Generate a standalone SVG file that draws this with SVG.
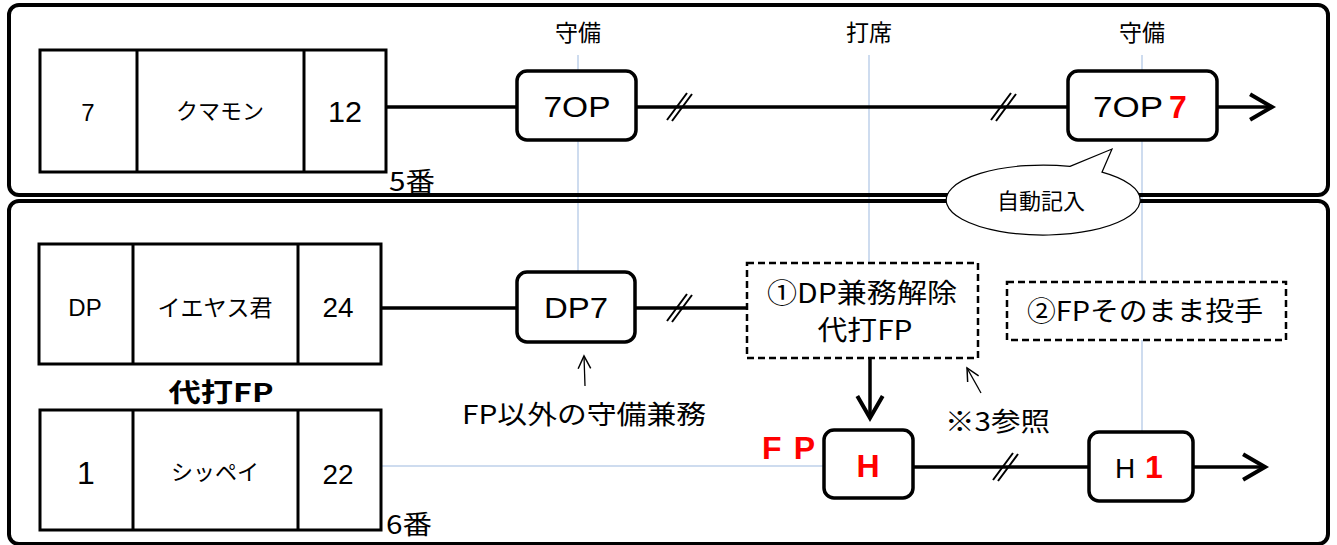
<svg xmlns="http://www.w3.org/2000/svg" width="1337" height="545" viewBox="0 0 1337 545">
<style>
text{font-family:"Liberation Sans","Noto Sans CJK JP",sans-serif;fill:#000}
.jp{font-family:"Noto Sans CJK JP","Liberation Sans",sans-serif}
.panel{fill:none;stroke:#000;stroke-width:4}
.tbl{fill:#fff;stroke:#000;stroke-width:3}
.node{fill:#fff;stroke:#000;stroke-width:3.5}
.dash{fill:#fff;stroke:#000;stroke-width:2.5;stroke-dasharray:7 4}
.guide{stroke:#9DB9DF;stroke-width:1;fill:none}
.conn{stroke:#000;stroke-width:3.5;fill:none}
.thin{stroke:#000;stroke-width:1.3;fill:none}
.brk{stroke:#000;stroke-width:2;fill:none}
.red{fill:#FF0000;font-weight:bold}
.mid{text-anchor:middle}
</style>
<defs>
<marker id="ah" markerUnits="userSpaceOnUse" markerWidth="30" markerHeight="30" viewBox="-22 -13 26 26" refX="0" refY="0" orient="auto" overflow="visible">
<path d="M-19,-11 L0,0 L-19,11" fill="none" stroke="#000" stroke-width="3.5" stroke-linejoin="miter"/>
</marker>
<marker id="sh" markerUnits="userSpaceOnUse" markerWidth="16" markerHeight="16" viewBox="-12 -7 14 14" refX="0" refY="0" orient="auto" overflow="visible">
<path d="M-11,-5.5 L0,0 L-11,5.5" fill="none" stroke="#000" stroke-width="1.3"/>
</marker>
</defs>
<rect width="1337" height="545" fill="#fff"/>

<g id="guides">
<line class="guide" x1="578" y1="55" x2="578" y2="272"/>
<line class="guide" x1="869" y1="55" x2="869" y2="263"/>
<line class="guide" x1="1142" y1="55" x2="1142" y2="432"/>
<line class="guide" x1="381" y1="466" x2="824" y2="466"/>
</g>

<g id="panels">
<rect class="panel" x="9" y="5" width="1319" height="190" rx="10"/>
<rect class="panel" x="9" y="201" width="1319" height="343" rx="10"/>
</g>

<g id="labels-top">
<text class="jp mid" x="578" y="41" font-size="23">守備</text>
<text class="jp mid" x="869" y="41" font-size="23">打席</text>
<text class="jp mid" x="1142" y="41" font-size="23">守備</text>
</g>

<g id="connectors">
<line class="conn" x1="386" y1="107" x2="517" y2="107"/>
<line class="conn" x1="636" y1="107" x2="1068" y2="107"/>
<line class="conn" x1="1217" y1="107" x2="1272" y2="107" marker-end="url(#ah)"/>
<line class="conn" x1="381" y1="308" x2="517" y2="308"/>
<line class="conn" x1="635" y1="308" x2="747" y2="308"/>
<line class="conn" x1="870" y1="358" x2="870" y2="418" marker-end="url(#ah)"/>
<line class="conn" x1="913" y1="467" x2="1089" y2="467"/>
<line class="conn" x1="1193" y1="467" x2="1265" y2="467" marker-end="url(#ah)"/>
<line class="thin" x1="585" y1="386" x2="584" y2="356" marker-end="url(#sh)"/>
<line class="thin" x1="981" y1="393" x2="967" y2="368" marker-end="url(#sh)"/>
<g id="breaks">
<path class="brk" d="M667,120 L687,93 M672,121 L692,94"/>
<path class="brk" d="M991,120 L1011,93 M996,121 L1016,94"/>
<path class="brk" d="M667,321 L687,294 M672,322 L692,295"/>
<path class="brk" d="M993,480 L1013,453 M998,481 L1018,454"/>
</g>
</g>

<g id="table-5">
<rect class="tbl" x="40" y="50" width="346" height="122"/>
<line class="tbl" x1="137" y1="50" x2="137" y2="172"/>
<line class="tbl" x1="304" y1="50" x2="304" y2="172"/>
<text class="mid" x="88" y="121" font-size="24">7</text>
<text class="jp mid" x="220" y="119" font-size="22">クマモン</text>
<text class="mid" x="345" y="122" font-size="29" textLength="34" lengthAdjust="spacingAndGlyphs">12</text>
<text class="jp" x="389" y="191" font-size="26" textLength="46" lengthAdjust="spacingAndGlyphs">5番</text>
</g>

<g id="table-dp">
<rect class="tbl" x="39" y="244" width="342" height="120"/>
<line class="tbl" x1="133" y1="244" x2="133" y2="364"/>
<line class="tbl" x1="298" y1="244" x2="298" y2="364"/>
<text class="mid" x="85" y="316" font-size="24">DP</text>
<text class="jp mid" x="215" y="316" font-size="23">イエヤス君</text>
<text class="mid" x="338" y="317" font-size="28" textLength="31" lengthAdjust="spacingAndGlyphs">24</text>
</g>

<text id="pinch-label" class="jp mid" x="221" y="402" font-size="26" font-weight="bold" textLength="105" lengthAdjust="spacingAndGlyphs">代打FP</text>

<g id="table-fp">
<rect class="tbl" x="40" y="410" width="341" height="120"/>
<line class="tbl" x1="133" y1="410" x2="133" y2="530"/>
<line class="tbl" x1="298" y1="410" x2="298" y2="530"/>
<text class="mid" x="86" y="484" font-size="32">1</text>
<text class="jp mid" x="215" y="480" font-size="22">シッペイ</text>
<text class="mid" x="338" y="484" font-size="28" textLength="31" lengthAdjust="spacingAndGlyphs">22</text>
<text class="jp" x="386" y="534" font-size="26" textLength="46" lengthAdjust="spacingAndGlyphs">6番</text>
</g>

<g id="node-7op">
<rect class="node" x="517" y="71" width="119" height="69" rx="10"/>
<text class="mid" x="577" y="117" font-size="30" textLength="67" lengthAdjust="spacingAndGlyphs">7OP</text>
</g>

<g id="node-7op7">
<rect class="node" x="1068" y="71" width="149" height="69" rx="10"/>
<text x="1093" y="117" font-size="30" textLength="70" lengthAdjust="spacingAndGlyphs">7OP</text>
<text class="red" x="1169" y="118" font-size="32">7</text>
</g>

<g id="node-dp7">
<rect class="node" x="517" y="272" width="118" height="70" rx="10"/>
<text class="mid" x="576" y="318" font-size="30" textLength="64" lengthAdjust="spacingAndGlyphs">DP7</text>
</g>

<g id="note-fp-other">
<text class="jp mid" x="584" y="424" font-size="26" textLength="244" lengthAdjust="spacingAndGlyphs">FP以外の守備兼務</text>
</g>

<g id="box-1">
<rect class="dash" x="747" y="263" width="231" height="95"/>
<text class="jp mid" x="862" y="303" font-size="27" textLength="190" lengthAdjust="spacingAndGlyphs">①DP兼務解除</text>
<text class="jp mid" x="865" y="340" font-size="27" textLength="95" lengthAdjust="spacingAndGlyphs">代打FP</text>
</g>

<g id="box-2">
<rect class="dash" x="1007" y="282" width="279" height="58"/>
<text class="jp mid" x="1145" y="321" font-size="27" textLength="236" lengthAdjust="spacingAndGlyphs">②FPそのまま投手</text>
</g>

<g id="note-3">
<text class="jp" x="945" y="431" font-size="26" textLength="105" lengthAdjust="spacingAndGlyphs">※3参照</text>
</g>

<text id="fp-label" class="red" x="762" y="459" font-size="32" textLength="53">FP</text>

<g id="node-h">
<rect class="node" x="824" y="430" width="89" height="68" rx="10"/>
<text class="red mid" x="868" y="477" font-size="32">H</text>
</g>

<g id="node-h1">
<rect class="node" x="1089" y="432" width="104" height="69" rx="10"/>
<text x="1115" y="478" font-size="28">H</text>
<text class="red" x="1145" y="478" font-size="32">1</text>
</g>

<g id="callout">
<path d="M1070,166.4 L1112,149 L1102,172.2 A97,35 0 1,1 1070,166.4 Z" fill="#fff" stroke="#000" stroke-width="1.2"/>
<text class="jp mid" x="1041" y="209" font-size="22">自動記入</text>
</g>
</svg>
